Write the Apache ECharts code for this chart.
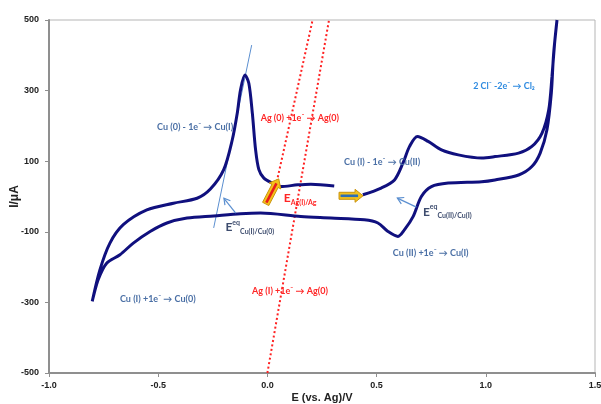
<!DOCTYPE html>
<html><head><meta charset="utf-8">
<script src="https://cdn.jsdelivr.net/npm/echarts@6/dist/echarts.min.js"></script>
<style>html,body{margin:0;padding:0;background:#fff}#c{width:601px;height:404px}</style>
</head><body><div id="c"></div>
<script>
// Cyclic voltammogram (E in V vs Ag, I in µA)
const potentials = [
  0.437,0.521,0.582,0.621,0.651,0.687,0.736,0.797,0.874,0.981,1.042,1.150,1.211,1.257,1.288,1.303,1.315,1.326,
  1.310,1.300,1.280,1.249,1.211,1.150,1.042,0.981,0.828,0.751,0.705,0.667,0.628,0.598,0.552,0.506,0.444,0.291,0.153,
  -0.031,-0.123,-0.246,-0.368,-0.460,-0.537,-0.614,-0.675,-0.736,-0.775,-0.802,
  -0.767,-0.721,-0.660,-0.552,-0.430,-0.322,-0.261,-0.200,-0.161,-0.138,-0.123,-0.103,-0.085,-0.069,-0.054,-0.039,
  -0.016,0.023,0.061,0.138,0.199,0.306
];
const currents = [
  5,24,47,95,142,170,156,132,118,109,113,123,142,179,245,340,434,500,
  400,293,189,123,85,61,47,42,38,28,0,-57,-94,-113,-99,-75,-66,-61,-57,
  -47,-49,-55,-61,-75,-99,-132,-165,-189,-236,-297,
  -208,-132,-80,-38,-19,-5,21,76,160,236,302,344,321,236,132,76,
  52,38,28,33,35,30
];
const xTickLabels = ['-1.0','-0.5','0.0','0.5','1.0','1.5'];
// guide lines
const tangentE = [-0.246, -0.072], tangentI = [-89, 429];
const agOxE = [0.043, 0.207], agOxI = [42, 500];
const agRedE = [0.0, 0.282], agRedI = [-500, 500];

const chart = echarts.init(document.getElementById('c'));
const axisFont = {fontFamily:'Liberation Sans', fontWeight:'bold', fontSize:9, color:'#222'};
const pairs = (xs, ys) => xs.map((x,i)=>[x, ys[i]]);

chart.setOption({
  animation:false,
  grid:{left:49,right:6,top:20,bottom:31,show:true,borderColor:'#b5b5b5',borderWidth:1,containLabel:false,outerBoundsMode:'none'},
  xAxis:{type:'value',min:-1,max:1.5,interval:0.5,
    axisLine:{show:true,onZero:false,lineStyle:{color:'#8f8f8f',width:2}},
    axisTick:{show:true,length:4,lineStyle:{color:'#8f8f8f'}},
    splitLine:{show:false},
    axisLabel:Object.assign({margin:8,formatter:v=>xTickLabels[Math.round((v+1)/0.5)]},axisFont),
    name:'E (vs. Ag)/V',nameLocation:'middle',nameGap:19,nameMoveOverlap:false,
    nameTextStyle:{fontFamily:'Liberation Sans',fontWeight:'bold',fontSize:11,color:'#222'}},
  yAxis:{type:'value',min:-500,max:500,interval:200,
    axisLine:{show:true,onZero:false,lineStyle:{color:'#8f8f8f',width:2}},
    axisTick:{show:true,length:4,lineStyle:{color:'#8f8f8f'}},
    splitLine:{show:false},
    axisLabel:Object.assign({margin:10},axisFont),
    name:'I/μA',nameLocation:'middle',nameGap:28,nameRotate:90,nameMoveOverlap:false,
    nameTextStyle:{fontFamily:'Liberation Sans',fontWeight:'bold',fontSize:12,color:'#222'}},
  series:[
    {type:'line',data:pairs(tangentE,tangentI),showSymbol:false,lineStyle:{color:'#5b8fd0',width:1},z:2},
    {type:'line',data:pairs(agOxE,agOxI),showSymbol:false,lineStyle:{color:'#ff2020',width:2,type:[2,2.5]},z:3},
    {type:'line',data:pairs(agRedE,agRedI),showSymbol:false,lineStyle:{color:'#ff2020',width:2,type:[2,2.5]},z:3},
    {type:'line',data:pairs(potentials,currents),showSymbol:false,smooth:0.3,clip:true,
     lineStyle:{color:'#10107e',width:3},z:5}
  ]
});

const P = (e,i) => chart.convertToPixel({gridIndex:0},[e,i]);
const g = [];
function label(e,i,text,color,size){
  const p = P(e,i);
  g.push({type:'text',x:p[0],y:p[1],z:20,style:{text:text,fill:color,fontFamily:'Lato',fontWeight:'bold',fontSize:size||9,align:'left',verticalAlign:'middle'}});
}
function richLabel(e,i,main,sup,sub,color,subColor){
  const p = P(e,i);
  g.push({type:'text',x:p[0],y:p[1],z:20,style:{
    text:'{m|'+main+'}'+(sup?'{s|'+sup+'}':'')+'{b|'+sub+'}',
    align:'left',verticalAlign:'middle',
    rich:{
      m:{fontFamily:'Lato',fontWeight:'bold',fontSize:12,fill:color,color:color,lineHeight:16},
      s:{fontFamily:'Lato',fontWeight:'bold',fontSize:7,fill:color,color:color,verticalAlign:'top',lineHeight:16},
      b:{fontFamily:'Lato',fontWeight:'bold',fontSize:7,fill:subColor||color,color:subColor||color,verticalAlign:'bottom',lineHeight:16}
    }}});
}
function thinArrow(e0,i0,e1,i1,color){
  const a=P(e0,i0), b=P(e1,i1);
  const dx=b[0]-a[0], dy=b[1]-a[1], L=Math.hypot(dx,dy), ux=dx/L, uy=dy/L, nx=-uy, ny=ux;
  g.push({type:'line',z:15,shape:{x1:a[0],y1:a[1],x2:b[0],y2:b[1]},style:{stroke:color,lineWidth:1.2}});
  g.push({type:'polyline',z:15,shape:{points:[[b[0]-ux*6+nx*3.5,b[1]-uy*6+ny*3.5],[b[0],b[1]],[b[0]-ux*6-nx*3.5,b[1]-uy*6-ny*3.5]]},style:{stroke:color,lineWidth:1.2,fill:null}});
}
function blockArrow(e0,i0,e1,i1,inner){
  const a=P(e0,i0), b=P(e1,i1);
  const dx=b[0]-a[0], dy=b[1]-a[1], L=Math.hypot(dx,dy), ux=dx/L, uy=dy/L, nx=-uy, ny=ux;
  const s=3.5, h=6.5, hl=8;
  const bx=b[0]-ux*hl, by=b[1]-uy*hl;
  const pts=[[a[0]+nx*s,a[1]+ny*s],[bx+nx*s,by+ny*s],[bx+nx*h,by+ny*h],[b[0],b[1]],[bx-nx*h,by-ny*h],[bx-nx*s,by-ny*s],[a[0]-nx*s,a[1]-ny*s]];
  g.push({type:'polygon',z:16,shape:{points:pts},style:{fill:'#f4c21b',stroke:'#c9930e',lineWidth:1}});
  g.push({type:'line',z:17,shape:{x1:a[0]+ux*1.5,y1:a[1]+uy*1.5,x2:b[0]-ux*5,y2:b[1]-uy*5},style:{stroke:inner,lineWidth:2.6}});
}

label(-0.505,197,'Cu (0) - 1e\u207B \u2192 Cu(I)','#4a6fa5');
label(-0.031,223,'Ag (0) +1e\u207B \u2192 Ag(0)','#ff2626');
label(0.351,97,'Cu (I) - 1e\u207B \u2192 Cu(II)','#4a6fa5');
label(0.574,-159,'Cu (II) +1e\u207B \u2192 Cu(I)','#4a6fa5');
label(0.942,313,'2 Cl\u207B -2e\u207B \u2192 Cl\u2082','#2f8be0');
label(-0.675,-290,'Cu (I) +1e\u207B \u2192 Cu(0)','#4a6fa5');
label(-0.070,-267,'Ag (I) +1e\u207B \u2192 Ag(0)','#ff2626');
richLabel(0.075,-4,'E','','Ag(I)/Ag','#ff2626');
richLabel(0.712,-43,'E','eq','Cu(II)/Cu(I)','#3d4c6e');
richLabel(-0.192,-86,'E','eq','Cu(I)/Cu(0)','#3d4c6e');
thinArrow(-0.145,-47,-0.199,-5,'#5b8fd0');
thinArrow(0.682,-30,0.595,-4.5,'#5b8fd0');
blockArrow(0.328,2,0.438,2,'#2e6fb5');
blockArrow(-0.008,-21,0.052,50,'#e81c1c');

chart.setOption({graphic:g});
</script></body></html>
